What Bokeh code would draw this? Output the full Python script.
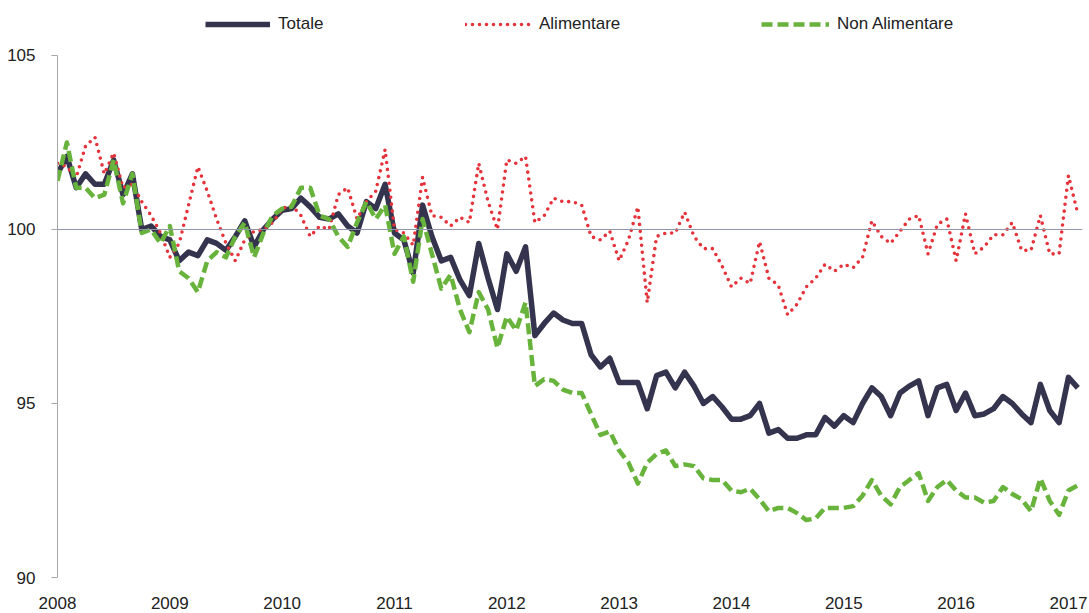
from bokeh.plotting import figure
from bokeh.models import Span, Legend, LegendItem, FixedTicker, Range1d, ColumnDataSource
from bokeh.embed import file_html
from bokeh.resources import INLINE

# ---- data (monthly index, Jan 2008 = 0) ----
years = ["2008", "2009", "2010", "2011", "2012", "2013", "2014", "2015", "2016", "2017"]

totale = [
    101.6, 102.1, 101.2, 101.6, 101.3, 101.3, 102.0, 101.0, 101.6, 100.0,
    100.1, 99.8, 99.7, 99.1, 99.35, 99.25, 99.7, 99.6, 99.4, 99.8,
    100.25, 99.5, 100.0, 100.3, 100.55, 100.6, 100.9, 100.65, 100.35, 100.3,
    100.45, 100.1, 99.9, 100.8, 100.6, 101.3, 99.9, 99.7, 98.75, 100.7,
    99.8, 99.1, 99.2, 98.55, 98.1, 99.6, 98.6, 97.7, 99.3, 98.8,
    99.5, 96.95, 97.3, 97.6, 97.4, 97.3, 97.3, 96.4, 96.05, 96.3,
    95.6, 95.6, 95.6, 94.85, 95.8, 95.9, 95.45, 95.9, 95.5, 95.0,
    95.2, 94.9, 94.55, 94.55, 94.65, 95.0, 94.15, 94.25, 94.0, 94.0,
    94.1, 94.1, 94.6, 94.35, 94.65, 94.45, 95.0, 95.45, 95.2, 94.65,
    95.3, 95.5, 95.65, 94.65, 95.45, 95.55, 94.8, 95.3, 94.65, 94.7,
    94.85, 95.2, 95.0, 94.7, 94.45, 95.55, 94.8, 94.45, 95.75, 95.45,
]

alimentare = [
    101.9, 101.8, 101.5, 102.4, 102.65, 101.6, 102.2, 101.2, 101.3, 100.8,
    100.4, 99.9, 99.2, 99.6, 100.7, 101.8, 101.1, 100.3, 99.6, 99.1,
    99.7, 99.95, 100.0, 100.2, 100.6, 100.7, 100.4, 99.8, 100.1, 100.0,
    101.0, 101.2, 100.3, 100.8, 101.1, 102.3, 100.0, 99.9, 99.55, 101.5,
    100.4, 100.35, 100.1, 100.35, 100.2, 101.9, 100.8, 100.0, 102.0, 101.9,
    102.1, 100.2, 100.4, 100.9, 100.8, 100.8, 100.7, 99.8, 99.7, 99.95,
    99.1, 99.7, 100.65, 97.9, 99.8, 99.9, 99.9, 100.5, 99.8, 99.45,
    99.45, 98.95, 98.35, 98.6, 98.45, 99.65, 98.6, 98.4, 97.55, 97.85,
    98.35, 98.6, 99.0, 98.8, 99.0, 98.9, 99.2, 100.25, 99.8, 99.6,
    99.95, 100.3, 100.4, 99.3, 100.15, 100.3, 99.1, 100.45, 99.3, 99.5,
    99.85, 99.85, 100.2, 99.4, 99.4, 100.4, 99.3, 99.3, 101.55, 100.45,
]

non_alimentare = [
    101.4, 102.5, 101.2, 101.2, 100.9, 101.0, 102.0, 100.75, 101.6, 99.9,
    100.0, 99.6, 100.1, 98.8, 98.6, 98.2, 99.1, 99.35, 99.2, 99.8,
    100.2, 99.2, 99.9, 100.4, 100.6, 100.65, 101.2, 101.2, 100.4, 100.3,
    99.8, 99.5, 100.2, 100.8, 100.3, 100.7, 99.3, 99.8, 98.5, 100.3,
    99.3, 98.3, 98.7, 97.7, 97.05, 98.2, 97.7, 96.6, 97.5, 97.1,
    97.9, 95.5, 95.7, 95.65, 95.4, 95.3, 95.3, 94.7, 94.1, 94.2,
    93.65, 93.3, 92.7, 93.3, 93.55, 93.65, 93.2, 93.25, 93.2, 92.85,
    92.8, 92.8, 92.5, 92.45, 92.55, 92.25, 91.9, 92.0, 92.0, 91.85,
    91.65, 91.7, 92.0, 92.0, 92.0, 92.05, 92.35, 92.8, 92.35, 92.1,
    92.6, 92.8, 93.0, 92.2, 92.6, 92.8, 92.5, 92.3, 92.3, 92.15,
    92.2, 92.6, 92.4, 92.25, 91.9, 92.85, 92.2, 91.8, 92.5, 92.65,
]

y_ticks = [90, 95, 100, 105]
months = list(range(len(totale)))

FONT = "Liberation Sans"
TXT = "#222222"

src = ColumnDataSource(dict(m=months, tot=totale, ali=alimentare, non=non_alimentare))

p = figure(width=1089, height=613, output_backend="svg", toolbar_location=None,
           x_range=Range1d(0, 109.5), y_range=Range1d(90, 106.58),
           min_border_left=57, min_border_right=7, min_border_top=0, min_border_bottom=36)
p.outline_line_color = None
p.xgrid.visible = False
p.ygrid.visible = False
p.background_fill_color = "white"

r_tot = p.line("m", "tot", source=src, line_color="#34344f", line_width=5.5, line_join="round")
r_ali = p.line("m", "ali", source=src, line_color="#e5333b", line_width=3.6,
               line_dash="0 7", line_cap="round", line_join="round")
r_non = p.line("m", "non", source=src, line_color="#68b33c", line_width=4.5,
               line_dash="11 5", line_join="round")

p.add_layout(Span(location=100, dimension="width", line_color="#8f96ab", line_width=1))

# x axis
p.xaxis.ticker = FixedTicker(ticks=[12 * i for i in range(len(years))])
p.xaxis.major_label_overrides = {12 * i: y for i, y in enumerate(years)}
p.xaxis.axis_line_color = None
p.xaxis.major_tick_line_color = None
p.xaxis.minor_tick_line_color = None
p.xaxis.major_label_standoff = 13
p.xaxis.major_label_text_font = FONT
p.xaxis.major_label_text_font_size = "17px"
p.xaxis.major_label_text_color = TXT

# y axis
p.yaxis.ticker = FixedTicker(ticks=y_ticks)
p.yaxis.bounds = (90, 105)
p.yaxis.axis_line_color = "#a8a8a8"
p.yaxis.major_tick_line_color = "#a8a8a8"
p.yaxis.major_tick_out = 6
p.yaxis.major_tick_in = 0
p.yaxis.minor_tick_line_color = None
p.yaxis.major_label_standoff = 16
p.yaxis.major_label_text_font = FONT
p.yaxis.major_label_text_font_size = "17px"
p.yaxis.major_label_text_color = TXT

def make_legend(label, rend, x, gw):
    lg = Legend(items=[LegendItem(label=label, renderers=[rend])], location=(x, 543),
                orientation="horizontal", glyph_width=gw, glyph_height=20,
                label_standoff=8, padding=0, margin=0, spacing=0,
                border_line_color=None, background_fill_alpha=0,
                label_text_font=FONT, label_text_font_size="17px", label_text_color=TXT)
    p.add_layout(lg)

make_legend("Totale", r_tot, 148, 65)
make_legend("Alimentare", r_ali, 408, 66)
make_legend("Non Alimentare", r_non, 704, 68)

open("out.html", "w").write(file_html(p, INLINE))
